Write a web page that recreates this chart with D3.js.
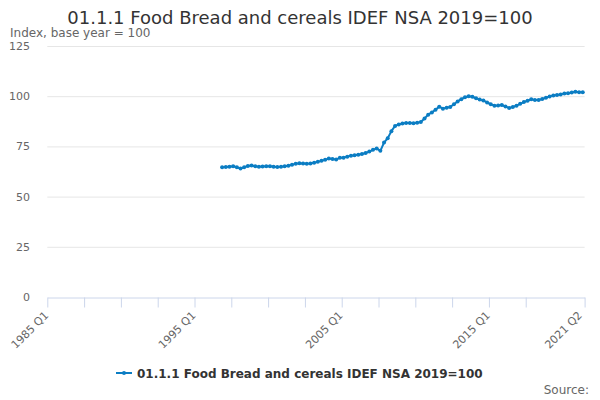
<!DOCTYPE html>
<html>
<head>
<meta charset="utf-8">
<script src="https://cdn.jsdelivr.net/npm/d3@7"></script>
<style>
  html, body { margin: 0; padding: 0; background: #fff; }
  svg { display: block; font-family: "DejaVu Sans", sans-serif; }
</style>
</head>
<body>
<div id="chart"></div>
<script>
// quarterly categories 1985 Q1 .. 2021 Q2
const firstYear = 1985, lastYear = 2021, lastQuarter = 2;
const categories = [];
for (let y = firstYear; y <= lastYear; y++) {
    for (let q = 1; q <= 4; q++) {
        if (y === lastYear && q > lastQuarter) break;
        categories.push(`${y} Q${q}`);
    }
}

// series starts at 1996 Q4
const seriesStart = "1996 Q4";
const values = [
    64.6, 64.7, 64.9, 65.1, 64.6, 64.0, 64.6, 65.3, 65.5, 65.1, 64.9, 65.0, 65.1,
    65.1, 64.9, 64.8, 64.9, 65.1, 65.4, 65.8, 66.4, 66.6, 66.5, 66.4, 66.5, 66.9,
    67.3, 67.8, 68.3, 69.0, 68.7, 68.5, 69.3, 69.4, 69.9, 70.3, 70.6, 70.8, 71.2,
    71.7, 72.4, 73.3, 74.0, 72.8, 76.9, 79.1, 82.6, 85.2, 85.9, 86.4, 86.7, 86.6,
    86.5, 86.8, 87.2, 88.9, 90.8, 91.9, 93.3, 94.8, 93.8, 94.3, 94.6, 96.0, 97.4,
    98.5, 99.5, 100.0, 99.7, 99.0, 98.3, 97.8, 96.9, 96.0, 95.3, 95.4, 95.6, 94.9,
    94.1, 94.6, 95.3, 96.2, 97.1, 97.7, 98.5, 98.1, 98.1, 98.6, 99.2, 99.9, 100.4,
    100.6, 100.9, 101.4, 101.5, 101.8, 102.2, 102.0, 102.0
];

const yTicks = [0, 25, 50, 75, 100, 125];
const xTickEvery = 10;
const xLabels = ["1985 Q1", "1995 Q1", "2005 Q1", "2015 Q1", "2021 Q2"];

const title = "01.1.1 Food Bread and cereals IDEF NSA 2019=100";
const subtitle = "Index, base year = 100";
const seriesName = "01.1.1 Food Bread and cereals IDEF NSA 2019=100";
const source = "Source:";

const W = 600, H = 400;
const m = { l: 47.3, r: 15.4, t: 46, b: 103 };
const color = "#0b7dc3";

const startIdx = categories.indexOf(seriesStart);
const points = values.map((v, i) => ({ cat: categories[startIdx + i], value: v }));

const svg = d3.select("#chart").append("svg").attr("width", W).attr("height", H);

const x = d3.scaleBand().domain(categories).range([m.l, W - m.r]).paddingInner(0).paddingOuter(0);
const xEdge = d3.scaleLinear().domain([0, categories.length]).range([m.l, W - m.r]);
const y = d3.scaleLinear().domain([0, 125]).range([H - m.b, m.t]);
const cx = c => x(c) + x.bandwidth() / 2;

// grid
svg.append("g")
    .selectAll("line")
    .data(yTicks.filter(d => d > 0)).enter().append("line")
    .attr("x1", m.l).attr("x2", W - m.r)
    .attr("y1", d => y(d) + 0.5).attr("y2", d => y(d) + 0.5)
    .attr("stroke", "#e6e6e6").attr("stroke-width", 1);

// y labels
svg.append("g")
    .selectAll("text")
    .data(yTicks).enter().append("text")
    .attr("x", 30).attr("y", d => y(d) + 4)
    .attr("text-anchor", "end")
    .attr("font-size", 11).attr("fill", "#666")
    .text(d => d);

// x axis (ticks between categories)
const tickVals = d3.range(0, categories.length - 10, xTickEvery).concat([categories.length]);
const gx = svg.append("g")
    .attr("transform", `translate(0,${y(0) + 0.5})`)
    .call(d3.axisBottom(xEdge).tickValues(tickVals).tickFormat("").tickSize(10).tickSizeOuter(0));
gx.select(".domain").attr("stroke", "#ccd6eb");
gx.selectAll(".tick line").attr("stroke", "#ccd6eb");

svg.append("g")
    .selectAll("text")
    .data(xLabels).enter().append("text")
    .attr("transform", d => `translate(${cx(d)},${y(0) + 19}) rotate(-45)`)
    .attr("text-anchor", "end")
    .attr("font-size", 11).attr("fill", "#666")
    .text(d => d);

// line + markers
const line = d3.line().x(d => cx(d.cat)).y(d => y(d.value));
svg.append("path")
    .datum(points)
    .attr("d", line)
    .attr("fill", "none")
    .attr("stroke", color)
    .attr("stroke-width", 2)
    .attr("stroke-linejoin", "round");

svg.append("g")
    .selectAll("circle")
    .data(points).enter().append("circle")
    .attr("cx", d => cx(d.cat)).attr("cy", d => y(d.value))
    .attr("r", 2).attr("fill", color);

// title, subtitle
svg.append("text")
    .attr("x", W / 2).attr("y", 24)
    .attr("text-anchor", "middle")
    .attr("font-size", 18).attr("fill", "#333")
    .text(title);

svg.append("text")
    .attr("x", 10).attr("y", 37)
    .attr("font-size", 12).attr("fill", "#666")
    .text(subtitle);

// legend
const lg = svg.append("g").attr("transform", "translate(116,373)");
lg.append("line").attr("x1", 0).attr("x2", 16).attr("y1", 0).attr("y2", 0)
    .attr("stroke", color).attr("stroke-width", 2);
lg.append("circle").attr("cx", 8).attr("cy", 0).attr("r", 2).attr("fill", color);
lg.append("text").attr("x", 21).attr("y", 4.5)
    .attr("font-size", 12).attr("font-weight", "bold").attr("fill", "#333")
    .text(seriesName);

svg.append("text")
    .attr("x", 589).attr("y", 394)
    .attr("text-anchor", "end")
    .attr("font-size", 12).attr("fill", "#666")
    .text(source);
</script>
</body>
</html>
